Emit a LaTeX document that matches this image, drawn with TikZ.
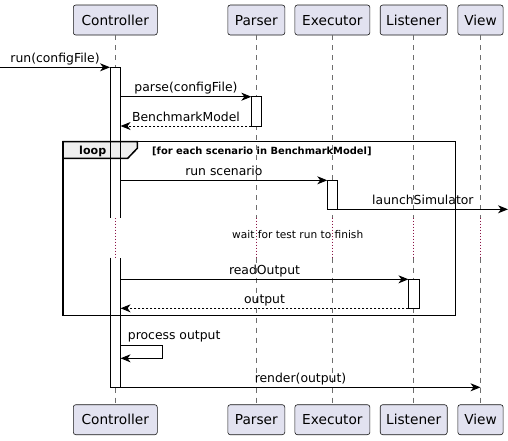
\documentclass[tikz,border=0pt]{standalone}
\usepackage{fontspec}
\setmainfont{DejaVu Sans}
\usetikzlibrary{arrows.meta}
\definecolor{partfill}{RGB}{226,226,240}
\definecolor{partdraw}{RGB}{24,24,24}
\definecolor{tabfill}{RGB}{238,238,238}
\definecolor{delaycol}{RGB}{140,20,70}
\definecolor{lifecol}{RGB}{110,110,110}
\begin{document}
\begin{tikzpicture}[x=1pt,y=-1pt,
  part/.style={draw=partdraw, line width=0.6pt, fill=partfill, rounded corners=2.5pt, minimum height=30pt, inner sep=0pt, text height=10pt, text depth=0pt, font=\fontsize{13.7}{16}\selectfont},
  lifeline/.style={draw=lifecol, line width=0.7pt, dash pattern=on 5pt off 5pt},
  delayline/.style={draw=delaycol, line width=0.8pt, dash pattern=on 1pt off 2pt},
  barfill/.style={fill=white, draw=none, minimum width=10.5pt, inner sep=0pt, outer sep=0pt},
  barbox/.style={barfill, draw=black, line width=0.9pt},
  barline/.style={draw=black, line width=0.9pt},
  msg/.style={draw=black, line width=0.9pt, -{Stealth[length=10pt,width=8pt,inset=3pt]}},
  ret/.style={msg, dash pattern=on 2pt off 2pt},
  lbl/.style={anchor=base, yshift=5pt, font=\fontsize{12.4}{14}\selectfont, inner sep=0pt},
  ]
\useasboundingbox (0,0) rectangle (508,440);
\fill[white] (0,0) rectangle (508,440);

% participants
\node[part, minimum width=84pt] (ctrlT) at (115.3,20) {Controller};
\node[part, minimum width=57pt] (parsT) at (256.3,20) {Parser};
\node[part, minimum width=75pt] (execT) at (332.4,20) {Executor};
\node[part, minimum width=67pt] (listT) at (413.7,20) {Listener};
\node[part, minimum width=45.3pt] (viewT) at (480.5,20) {View};
\node[part, minimum width=84pt] (ctrlB) at (115.3,419.7) {Controller};
\node[part, minimum width=57pt] (parsB) at (256.3,419.7) {Parser};
\node[part, minimum width=75pt] (execB) at (332.4,419.7) {Executor};
\node[part, minimum width=67pt] (listB) at (413.7,419.7) {Listener};
\node[part, minimum width=45.3pt] (viewB) at (480.5,419.7) {View};

% lifelines
\coordinate (d1) at (0,217.7);
\coordinate (d2) at (0,257.7);
\foreach \p in {ctrl,pars,exec,list,view}{
  \draw[lifeline] (\p T.south) -- (\p T.south |- d1);
  \draw[delayline] (\p T.south |- d1) -- (\p T.south |- d2);
  \draw[lifeline] (\p T.south |- d2) -- (\p B.north);
}

% controller activation fills
\node[barfill, minimum height=150.4pt] (ctrlA) at (115.3,142.5) {};
\node[barfill, minimum height=129.6pt] (ctrlC) at (115.3,322.5) {};

% loop frame
\draw[line width=1.5pt] (63,141.7) rectangle (455.7,315.7);
\filldraw[fill=tabfill, line width=1.5pt] (63,141.7) -- (137.3,141.7) -- (137.3,148.3) -- (127.7,158.3) -- (63,158.3) -- cycle;
\node[anchor=base west, font=\bfseries\fontsize{11.1}{13}\selectfont, inner sep=0pt] (looplbl) at (79,154.7) {loop};
\node[anchor=base west, font=\bfseries\fontsize{9.9}{12}\selectfont, inner sep=0pt] (cond) at (152,154) {[for each scenario in BenchmarkModel]};

% controller activation outlines
\draw[barline] (ctrlA.south west) -- (ctrlA.north west) -- (ctrlA.north east) -- (ctrlA.south east);
\draw[barline] (ctrlC.north west) -- (ctrlC.south west) -- (ctrlC.south east) -- (ctrlC.north east);

% other activations
\node[barbox, minimum height=29.3pt] (parsbar) at (256.6,111.35) {};
\node[barbox, minimum height=29pt] (execbar) at (332.5,194.8) {};
\node[barbox, minimum height=29pt] (listbar) at (413.7,293.8) {};

% messages
\coordinate (start) at (0,67.3);
\coordinate (rightedge) at (508,0);
\draw[msg] (start) -- (ctrlA.north west) node[lbl, midway] {run(configFile)};
\draw[msg] (ctrlA.east |- parsbar.north) -- (parsbar.north west) node[lbl, midway] {parse(configFile)};
\draw[ret] (parsbar.south west) -- (ctrlA.east |- parsbar.south) node[lbl, midway] {BenchmarkModel};
\draw[msg] (ctrlA.east |- execbar.north) -- (execbar.north west) node[lbl, midway] {run scenario};
\draw[msg] (execbar.south east) -- (execbar.south east -| rightedge) node[lbl, midway] {launchSimulator};
\node[anchor=base, font=\fontsize{10.6}{12}\selectfont, inner sep=0pt] (delaytxt) at (297.7,238.3) {wait for test run to finish};
\draw[msg] (ctrlC.east |- listbar.north) -- (listbar.north west) node[lbl, midway] {readOutput};
\draw[ret] (listbar.south west) -- (ctrlC.east |- listbar.south) node[lbl, midway] {output};
\draw[msg] (ctrlC.east |- 0,345.5) -- (162.3,345.5) -- (162.3,358.3) -- (ctrlC.east |- 0,358.3);
\node[anchor=base west, font=\fontsize{12.4}{14}\selectfont, inner sep=0pt] (selflbl) at (127.7,339.3) {process output};
\draw[msg] (ctrlC.south east) -- (ctrlC.south east -| viewT.south) node[lbl, midway] {render(output)};
\end{tikzpicture}
\end{document}
